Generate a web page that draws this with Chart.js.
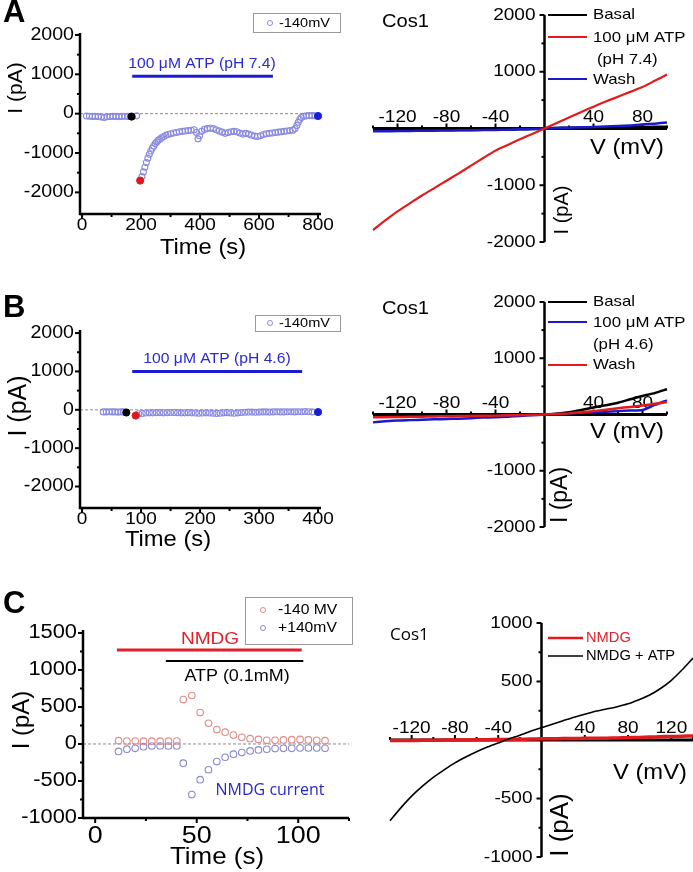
<!DOCTYPE html>
<html>
<head>
<meta charset="utf-8">
<script src="https://cdn.jsdelivr.net/npm/chart.js@4.4.0/dist/chart.umd.min.js"></script>
<style>
  html, body { margin: 0; padding: 0; background: #fff; }
  #wrap { position: relative; width: 693px; height: 872px; overflow: hidden; }
  #wrap canvas { position: absolute; left: 0; top: 0; }
</style>
</head>
<body>
<div id="wrap">
  <canvas id="aL" width="693" height="872"></canvas>
  <canvas id="aR" width="693" height="872"></canvas>
  <canvas id="bL" width="693" height="872"></canvas>
  <canvas id="bR" width="693" height="872"></canvas>
  <canvas id="cL" width="693" height="872"></canvas>
  <canvas id="cR" width="693" height="872"></canvas>
</div>
<script>
// ---------- data ----------
// A: time course at -140 mV, 100 uM ATP pH 7.4
const aTime = [15,25,35,45,55,65,75,85,95,105,115,125,135,145,155,163,185,
  203,208,213,218,223,228,233,238,243,248,253,258,263,270,277,284,291,
  300,310,320,330,340,350,360,370,380,388,393,398,
  405,415,425,435,445,455,465,475,485,495,505,515,525,535,545,555,565,575,585,595,
  605,615,625,635,645,655,665,675,685,695,705,715,722,728,733,738,743,750,760,770,780,790];
const aCurr = [-60,-65,-70,-70,-75,-85,-95,-80,-75,-70,-70,-75,-70,-65,-70,-70,-55,
  -1600,-1480,-1360,-1240,-1130,-1030,-950,-880,-820,-760,-720,-680,-650,-610,-580,-550,-530,
  -510,-490,-480,-460,-450,-440,-430,-420,-410,-480,-640,-560,
  -450,-400,-380,-370,-380,-410,-440,-470,-500,-480,-460,-450,-460,-490,-520,-500,-520,-550,-570,-580,
  -560,-530,-510,-500,-490,-480,-470,-460,-450,-440,-430,-420,-380,-300,-220,-150,-100,-70,-55,-50,-50,-55];
const aMarkTime = [168, 197, 800];      // basal, ATP, wash
const aMarkCurr = [-75, -1700, -60];
const aBarTime = [170, 647];
const aBarLevel = 950;

// A: I-V curves
const ivV = [-140,-130,-120,-110,-100,-90,-80,-70,-60,-50,-40,-30,-20,-10,0,10,20,30,40,50,60,70,80,90,100];
const aBasal = [-30,-30,-28,-27,-25,-25,-22,-20,-20,-18,-15,-12,-10,-5,0,5,8,10,12,15,18,20,22,25,28];
const aAtp   = [-1790,-1620,-1460,-1320,-1180,-1050,-920,-790,-655,-520,-390,-290,-190,-95,0,95,195,290,385,475,560,645,730,840,950];
const aWash  = [-50,-48,-45,-43,-40,-38,-35,-33,-30,-28,-25,-20,-15,-8,0,8,15,20,25,35,45,55,70,85,105];

// B: time course at -140 mV, 100 uM ATP pH 4.6
const bTime = [36,41,46,51,56,61,66,70,
  96,102,108,114,120,126,132,138,144,150,156,162,168,174,180,186,192,198,204,210,216,222,228,234,240,
  246,252,258,264,270,276,282,288,294,300,306,312,318,324,330,336,342,348,354,360,366,372,378,384,390];
const bCurr = [-55,-55,-50,-55,-55,-60,-55,-55,
  -105,-95,-85,-80,-80,-75,-75,-80,-75,-70,-70,-75,-80,-80,-75,-80,-85,-90,-85,-80,-85,-90,-95,-90,-80,
  -75,-85,-90,-80,-70,-65,-60,-60,-65,-60,-55,-55,-60,-55,-50,-55,-55,-50,-50,-55,-50,-50,-45,-50,-55];
const bMarkTime = [75, 91, 400];
const bMarkCurr = [-70, -150, -60];
const bBarTime = [85, 373];
const bBarLevel = 1000;

// B: I-V curves
const bBasal = [-30,-28,-25,-22,-20,-18,-15,-12,-10,-8,-5,-3,0,2,5,15,40,80,125,165,210,270,330,380,450];
const bAtp   = [-140,-120,-105,-100,-95,-85,-80,-75,-65,-55,-50,-40,-25,-15,0,10,20,30,40,50,60,70,80,170,250];
const bWash  = [-50,-48,-45,-42,-38,-35,-30,-28,-25,-22,-20,-15,-10,-5,0,10,20,40,60,85,110,135,160,190,220];

// C: NMDG time course
const cTime = [11.5,15.6,19.7,23.8,27.9,32.0,36.1,40.2,43.4,47.6,51.7,55.8,59.9,64.0,68.1,72.2,76.3,80.4,84.5,88.6,92.7,96.8,100.9,105.0,109.1,113.2];
const cNeg140 = [45,40,40,38,38,38,38,40,600,655,425,280,195,160,120,90,72,62,50,50,55,58,62,55,50,45];
const cPos140 = [-100,-70,-58,-36,-27,-27,-27,-27,-259,-683,-482,-348,-237,-179,-138,-116,-94,-80,-71,-62,-58,-58,-54,-54,-54,-58];
const cNmdgBar = [10.7, 101.7];
const cNmdgLevel = 1270;
const cAtpBar = [34.8, 102.5];
const cAtpLevel = 1120;

// C: I-V curves
const cV = [-140,-130,-120,-110,-100,-90,-80,-70,-60,-50,-40,-30,-20,-10,0,10,20,30,40,50,60,70,80,90,100,110,120,130,140];
const cNmdg    = [-5,-5,-4,-3,-2,-1,0,0,2,3,5,5,6,8,10,10,12,12,14,15,16,18,20,22,25,28,30,32,35];
const cNmdgAtp = [-690,-580,-480,-395,-320,-255,-195,-145,-100,-60,-25,10,40,75,105,135,165,195,220,245,265,285,310,345,385,440,510,600,700];

// ---------- helpers ----------
const W = 693, H = 872;
const F = '"Liberation Sans", Arial, Helvetica, sans-serif';
const SX = 1.12;   // the figure is a little stretched sideways
const RED = '#e31a1c', BLUE = '#1a1acc', BAR_BLUE = '#1b1bd6';
const pts = (xs, ys) => xs.map((x, i) => ({ x: x, y: ys[i] }));
const seg = (xs, lvl) => xs.map(x => ({ x: x, y: lvl }));

function txt(ctx, s, x, y, o) {
  o = o || {};
  ctx.save();
  ctx.font = o.font || ('17px ' + F);
  ctx.fillStyle = o.color || '#000';
  ctx.textAlign = o.align || 'left';
  ctx.textBaseline = o.base || 'middle';
  ctx.translate(x, y);
  if (o.rot) ctx.rotate(o.rot);
  const sx = o.sx === undefined ? SX : o.sx;
  ctx.scale(sx, 1);
  ctx.fillText(s, 0, 0);
  ctx.restore();
}

function ln(ctx, x1, y1, x2, y2) {
  ctx.beginPath(); ctx.moveTo(x1, y1); ctx.lineTo(x2, y2); ctx.stroke();
}

// axes, labels and legends drawn with the chart's own scales
function figPlugin(f) {
  return {
    id: 'fig',
    beforeDatasetsDraw(chart) {
      const ctx = chart.ctx, a = chart.chartArea, x = chart.scales.x, y = chart.scales.y;
      ctx.save();
      if (f.zero) {
        ctx.strokeStyle = '#8c8c8c'; ctx.lineWidth = 1; ctx.setLineDash([3, 2]);
        const py = y.getPixelForValue(0);
        ln(ctx, a.left, py, a.right, py);
        ctx.setLineDash([]);
      }
      ctx.strokeStyle = '#000';
      let ax, ay;
      if (f.kind === 'box') { ax = a.left; ay = a.bottom; } else { ax = x.getPixelForValue(0); ay = y.getPixelForValue(0); }
      ctx.lineWidth = 2.5;
      ln(ctx, ax, a.top, ax, f.kind === 'box' ? ay + 1.2 : a.bottom);
      ctx.lineWidth = f.kind === 'box' ? 2.5 : 3;
      ln(ctx, a.left, ay, a.right, ay);
      ctx.lineWidth = 2;
      f.yMajor.forEach(v => { const p = y.getPixelForValue(v); ln(ctx, ax, p, ax - 5, p); });
      f.yMinor.forEach(v => { const p = y.getPixelForValue(v); ln(ctx, ax, p, ax - 3, p); });
      const dir = f.kind === 'box' ? 1 : -1;
      f.xMajor.forEach(v => { const p = x.getPixelForValue(v); ln(ctx, p, ay, p, ay + dir * 5); });
      f.xMinor.forEach(v => { const p = x.getPixelForValue(v); ln(ctx, p, ay, p, ay + dir * 3); });
      // tick labels
      f.yMajor.forEach(v => {
        if (f.kind !== 'box' && v === 0) return;
        txt(ctx, String(v), ax - f.yGap, y.getPixelForValue(v), { align: 'right', font: f.yFont });
      });
      f.xMajor.forEach(v => {
        const p = x.getPixelForValue(v);
        if (f.kind === 'box') txt(ctx, String(v), p, ay + f.xGap, { align: 'center', base: 'top', font: f.xFont });
        else txt(ctx, String(v), p, ay - f.xGap, { align: 'center', base: 'alphabetic', font: f.xFont });
      });
      ctx.restore();
    },
    afterDatasetsDraw(chart) {
      const ctx = chart.ctx;
      ctx.save();
      (f.lines || []).forEach(l => {
        ctx.strokeStyle = l.color; ctx.lineWidth = l.w || 2;
        ln(ctx, l.x1, l.y, l.x2, l.y);
      });
      if (f.box) {
        ctx.strokeStyle = '#9a9a9a'; ctx.lineWidth = 1;
        ctx.strokeRect(f.box.x + 0.5, f.box.y + 0.5, f.box.w, f.box.h);
        f.box.items.forEach(it => {
          ctx.strokeStyle = it.color; ctx.lineWidth = 1;
          ctx.beginPath(); ctx.arc(it.mx, it.my, 2.5, 0, Math.PI * 2); ctx.stroke();
          txt(ctx, it.s, it.tx, it.my, { font: it.font || ('13px ' + F) });
        });
      }
      (f.texts || []).forEach(t => txt(ctx, t.s, t.x, t.y, t));
      ctx.restore();
    }
  };
}

function makeChart(id, area, xr, yr, datasets, f) {
  return new Chart(document.getElementById(id), {
    type: 'scatter',
    data: { datasets: datasets },
    options: {
      responsive: false,
      animation: false,
      devicePixelRatio: 1,
      events: [],
      layout: { padding: { left: area[0], top: area[1], right: W - area[2], bottom: H - area[3] } },
      scales: {
        x: { type: 'linear', min: xr[0], max: xr[1], display: false },
        y: { type: 'linear', min: yr[0], max: yr[1], display: false }
      },
      plugins: { legend: { display: false }, tooltip: { enabled: false } }
    },
    plugins: [figPlugin(f)]
  });
}

const hollow = (data, color, r) => ({
  data: data, showLine: false, clip: false,
  pointRadius: r, pointBorderWidth: 1.1, pointBorderColor: color, pointBackgroundColor: 'rgba(0,0,0,0)'
});
const marks = (data, colors) => ({
  data: data, showLine: false, clip: false,
  pointRadius: 3.6, pointBorderWidth: 1, pointBorderColor: colors, pointBackgroundColor: colors
});
const bar = (data, color, w) => ({ data: data, showLine: true, borderColor: color, borderWidth: w, pointRadius: 0 });
const trace = (data, color, w) => ({ data: data, showLine: true, borderColor: color, borderWidth: w, pointRadius: 0, tension: 0.2, clip: false });

// ---------- panel A ----------
makeChart('aL', [80, 33, 321, 214], [-7, 810], [-2550, 2050], [
  marks(pts(aMarkTime, aMarkCurr), ['#000', '#e0161d', '#1620d8']),
  hollow(pts(aTime, aCurr), '#8a8ae0', 3),
  bar(seg(aBarTime, aBarLevel), BAR_BLUE, 3)
], {
  kind: 'box', zero: true,
  xMajor: [0, 200, 400, 600, 800], xMinor: [100, 300, 500, 700],
  yMajor: [2000, 1000, 0, -1000, -2000], yMinor: [1500, 500, -500, -1500],
  yFont: '17.5px ' + F, xFont: '17px ' + F, yGap: 6, xGap: 3,
  box: { x: 253, y: 13, w: 87, h: 19, items: [{ mx: 270, my: 23, color: '#8a8ae0', s: '-140mV', tx: 279 }] },
  texts: [
    { s: 'A', x: 3, y: 22, font: 'bold 31px ' + F, base: 'alphabetic', sx: 1 },
    { s: 'I (pA)', x: 16, y: 88, font: '21px ' + F, rot: -Math.PI / 2, align: 'center', sx: 1 },
    { s: 'Time (s)', x: 203, y: 254, font: '22px ' + F, align: 'center', base: 'alphabetic', sx: 1.08 },
    { s: '100 \u03bcM ATP (pH 7.4)', x: 202, y: 64, font: '14px ' + F, color: '#2a2ad0', align: 'center' }
  ]
});

makeChart('aR', [373, 15, 667, 242], [-140, 100], [-2000, 2000], [
  trace(pts(ivV, aAtp), RED, 2.2),
  trace(pts(ivV, aWash), BLUE, 2.5),
  trace(pts(ivV, aBasal), '#000', 3)
], {
  kind: 'cross',
  xMajor: [-120, -80, -40, 40, 80], xMinor: [-140, -100, -60, -20, 20, 60, 100],
  yMajor: [2000, 1000, 0, -1000, -2000], yMinor: [1500, 500, -500, -1500],
  yFont: '17px ' + F, xFont: '17px ' + F, yGap: 9, xGap: 7,
  lines: [
    { x1: 548, x2: 587, y: 15, color: '#000' },
    { x1: 548, x2: 587, y: 37, color: RED },
    { x1: 548, x2: 587, y: 79, color: BLUE }
  ],
  texts: [
    { s: 'Cos1', x: 382, y: 22, font: '18px ' + F },
    { s: 'Basal', x: 593, y: 15, font: '15px ' + F },
    { s: '100 \u03bcM ATP', x: 593, y: 37.5, font: '15px ' + F },
    { s: '(pH 7.4)', x: 597, y: 60, font: '15px ' + F },
    { s: 'Wash', x: 593, y: 79.5, font: '15px ' + F },
    { s: 'V (mV)', x: 590, y: 154, font: '22px ' + F, base: 'alphabetic', sx: 1.08 },
    { s: 'I (pA)', x: 562, y: 210, font: '20px ' + F, rot: -Math.PI / 2, align: 'center', sx: 1 }
  ]
});

// ---------- panel B ----------
makeChart('bL', [80, 330, 321, 508], [-3.5, 405], [-2560, 2080], [
  marks(pts(bMarkTime, bMarkCurr), ['#000', '#e0161d', '#1620d8']),
  hollow(pts(bTime, bCurr), '#8a8ae0', 3),
  bar(seg(bBarTime, bBarLevel), BAR_BLUE, 3)
], {
  kind: 'box', zero: true,
  xMajor: [0, 100, 200, 300, 400], xMinor: [50, 150, 250, 350],
  yMajor: [2000, 1000, 0, -1000, -2000], yMinor: [1500, 500, -500, -1500],
  yFont: '17.5px ' + F, xFont: '17px ' + F, yGap: 6, xGap: 3,
  box: { x: 255, y: 315, w: 85, h: 16, items: [{ mx: 270, my: 323, color: '#8a8ae0', s: '-140mV', tx: 279 }] },
  texts: [
    { s: 'B', x: 3, y: 317, font: 'bold 31px ' + F, base: 'alphabetic', sx: 1 },
    { s: 'I (pA)', x: 19, y: 406, font: '25px ' + F, rot: -Math.PI / 2, align: 'center', sx: 1 },
    { s: 'Time (s)', x: 168, y: 546, font: '22px ' + F, align: 'center', base: 'alphabetic', sx: 1.08 },
    { s: '100 \u03bcM ATP (pH 4.6)', x: 217, y: 359, font: '14px ' + F, color: '#2a2ad0', align: 'center' }
  ]
});

makeChart('bR', [373, 302, 667, 527], [-140, 100], [-2000, 2000], [
  trace(pts(ivV, bWash), RED, 2.5),
  trace(pts(ivV, bBasal), '#000', 2.5),
  trace(pts(ivV, bAtp), BLUE, 2.5)
], {
  kind: 'cross',
  xMajor: [-120, -80, -40, 40, 80], xMinor: [-140, -100, -60, -20, 20, 60, 100],
  yMajor: [2000, 1000, 0, -1000, -2000], yMinor: [1500, 500, -500, -1500],
  yFont: '17px ' + F, xFont: '17px ' + F, yGap: 9, xGap: 7,
  lines: [
    { x1: 548, x2: 587, y: 302, color: '#000' },
    { x1: 548, x2: 587, y: 322, color: BLUE },
    { x1: 548, x2: 587, y: 365, color: RED }
  ],
  texts: [
    { s: 'Cos1', x: 382, y: 309, font: '18px ' + F },
    { s: 'Basal', x: 593, y: 302, font: '15px ' + F },
    { s: '100 \u03bcM ATP', x: 593, y: 322.5, font: '15px ' + F },
    { s: '(pH 4.6)', x: 593, y: 345, font: '15px ' + F },
    { s: 'Wash', x: 593, y: 365, font: '15px ' + F },
    { s: 'V (mV)', x: 590, y: 438, font: '22px ' + F, base: 'alphabetic', sx: 1.08 },
    { s: 'I (pA)', x: 561, y: 495, font: '23px ' + F, rot: -Math.PI / 2, align: 'center', sx: 1 }
  ]
});

// ---------- panel C ----------
makeChart('cL', [83, 630, 349, 818], [-6, 125], [-1000, 1540], [
  hollow(pts(cTime, cNeg140), '#e08a8a', 3.3),
  hollow(pts(cTime, cPos140), '#8a8acc', 3.3),
  bar(seg(cNmdgBar, cNmdgLevel), '#e0202a', 3),
  bar(seg(cAtpBar, cAtpLevel), '#000', 2)
], {
  kind: 'box', zero: true,
  xMajor: [0, 50, 100], xMinor: [25, 75, 125],
  yMajor: [1500, 1000, 500, 0, -500, -1000], yMinor: [1250, 750, 250, -250, -750],
  yFont: '19.5px ' + F, xFont: '24px ' + F, yGap: 6, xGap: 6,
  box: { x: 245, y: 597, w: 107, h: 47, items: [
    { mx: 263, my: 610, color: '#e08a8a', s: '-140 MV', tx: 278, font: '14px ' + F },
    { mx: 263, my: 628, color: '#8a8acc', s: '+140mV', tx: 278, font: '14px ' + F }
  ] },
  texts: [
    { s: 'C', x: 3, y: 613, font: 'bold 31px ' + F, base: 'alphabetic', sx: 1 },
    { s: 'I (pA)', x: 22, y: 720, font: '24px ' + F, rot: -Math.PI / 2, align: 'center', sx: 1 },
    { s: 'Time (s)', x: 217, y: 864, font: '24px ' + F, align: 'center', base: 'alphabetic', sx: 1.08 },
    { s: 'NMDG', x: 210, y: 639, font: '17px ' + F, color: '#e0202a', align: 'center' },
    { s: 'ATP (0.1mM)', x: 237, y: 677, font: '16px ' + F, align: 'center' },
    { s: 'NMDG current', x: 270, y: 790, font: '16px "Open Sans", sans-serif', color: '#2828c8', align: 'center', sx: 1 }
  ]
});

makeChart('cR', [390, 623, 693, 857], [-140, 140], [-1000, 1000], [
  trace(pts(cV, cNmdgAtp), '#000', 1.6),
  trace(pts(cV, cNmdg), RED, 3.5)
], {
  kind: 'cross',
  xMajor: [-120, -80, -40, 40, 80, 120], xMinor: [-140, -100, -60, -20, 20, 60, 100, 140],
  yMajor: [1000, 500, 0, -500, -1000], yMinor: [750, 250, -250, -750],
  yFont: '17px ' + F, xFont: '17px ' + F, yGap: 9, xGap: 7,
  lines: [
    { x1: 548, x2: 583, y: 638, color: RED, w: 2.5 },
    { x1: 548, x2: 583, y: 656, color: '#000', w: 1.5 }
  ],
  texts: [
    { s: 'Cos1', x: 390, y: 635, font: '17px "Open Sans", sans-serif', sx: 1 },
    { s: 'NMDG', x: 586, y: 638, font: '14px ' + F, color: '#e0202a', sx: 1.05 },
    { s: 'NMDG + ATP', x: 586, y: 656, font: '14px ' + F, sx: 1.05 },
    { s: 'V (mV)', x: 613, y: 779, font: '22px ' + F, base: 'alphabetic', sx: 1.08 },
    { s: 'I (pA)', x: 561, y: 825, font: '26px ' + F, rot: -Math.PI / 2, align: 'center', sx: 1 }
  ]
});
</script>
</body>
</html>
